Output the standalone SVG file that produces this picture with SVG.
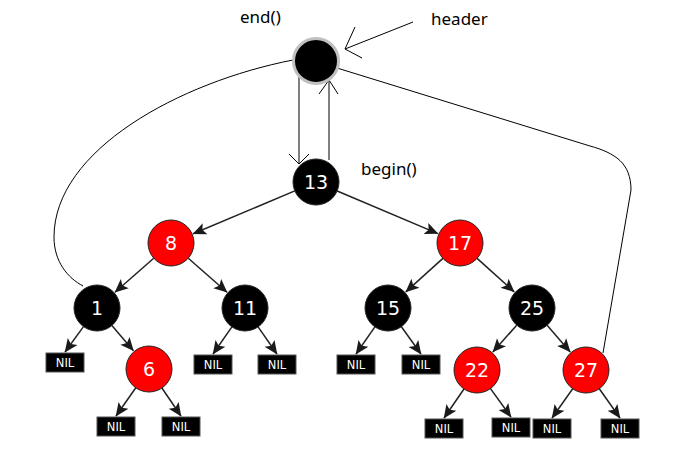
<svg xmlns="http://www.w3.org/2000/svg" width="680" height="454" viewBox="0 0 680 454">
<style>
.lbl{font-family:"Noto Sans","Liberation Sans",sans-serif;font-size:17px;fill:#000}
.nb{fill:#000;stroke:#222;stroke-width:1}
.nr{fill:#f00;stroke:#222;stroke-width:1}
.nt{font-family:"DejaVu Sans",sans-serif;font-size:19px;fill:#fff;text-anchor:middle}
.nil{fill:#000;stroke:#555;stroke-width:1}
.nilt{font-family:"DejaVu Sans",sans-serif;font-size:11.5px;fill:#fff;text-anchor:middle}
.e{stroke:#222;stroke-width:1.5;fill:none;marker-end:url(#ah)}
.thin{stroke:#000;stroke-width:1;fill:none}
</style>
<defs>
<marker id="ah" viewBox="-14 -7 15 14" refX="0" refY="0" markerWidth="15" markerHeight="14" markerUnits="userSpaceOnUse" orient="auto">
<path d="M0.5,0 L-13,-6 L-10,0 L-13,6 Z" fill="#1a1a1a"/>
</marker>
</defs>
<g id="connectors">
<path class="e" d="M294.8,190.9 L193.1,233.7"/>
<path class="e" d="M337.2,191 L437.9,233.6"/>
<path class="e" d="M153.7,258.2 L115,292.2"/>
<path class="e" d="M188.3,258.2 L227,292.2"/>
<path class="e" d="M442.9,258.4 L405.8,291.9"/>
<path class="e" d="M477.1,258.4 L514.2,291.9"/>
<path class="e" d="M111.9,325.5 L133.4,350.7"/>
<path class="e" d="M516.7,325.2 L492.9,352"/>
<path class="e" d="M547.1,325.3 L570.2,351.9"/>
<path class="e" d="M83.5,326.6 L65,352"/>
<path class="e" d="M135.8,387.8 L116,416"/>
<path class="e" d="M161.9,388 L181,416"/>
<path class="e" d="M231.9,326.9 L213,354"/>
<path class="e" d="M258.1,326.9 L277,354"/>
<path class="e" d="M374.9,326.9 L356,354"/>
<path class="e" d="M401.4,326.7 L421,354"/>
<path class="e" d="M464,389 L444,418"/>
<path class="e" d="M490.5,388.6 L511,417"/>
<path class="e" d="M572.7,388.8 L552,418"/>
<path class="e" d="M599.3,388.8 L620,418"/>
<path class="thin" d="M293,60 C180,82 54,150 54,237 C54,262 68,278 83,286"/>
<path class="thin" d="M337,68 L590,146 C615,153 631,163 631,190 L603,353"/>
<path class="thin" d="M413,22 L345,49 M355,27 L345,49 L362,58"/>
<path class="thin" d="M299,77 L299,164 M289,154 L299,164 L309,154"/>
<path class="thin" d="M329,160 L329,80 M319,94 L329,80 L338,94"/>
</g>
<g id="labels">
<text class="lbl" x="240" y="23">end()</text>
<text class="lbl" x="431" y="25">header</text>
<text class="lbl" x="361" y="175">begin()</text>
</g>
<g id="header"><circle cx="316" cy="61" r="22.5" fill="#000" stroke="#c0c0c0" stroke-width="3"/></g>
<g id="n13"><circle class="nb" cx="316" cy="182" r="23"/><text class="nt" x="316" y="189">13</text></g>
<g id="n8"><circle class="nr" cx="171" cy="243" r="23"/><text class="nt" x="171" y="250">8</text></g>
<g id="n17"><circle class="nr" cx="460" cy="243" r="23"/><text class="nt" x="460" y="250">17</text></g>
<g id="n1"><circle class="nb" cx="97" cy="308" r="23"/><text class="nt" x="97" y="315">1</text></g>
<g id="n11"><circle class="nb" cx="245" cy="308" r="23"/><text class="nt" x="245" y="315">11</text></g>
<g id="n15"><circle class="nb" cx="388" cy="308" r="23"/><text class="nt" x="388" y="315">15</text></g>
<g id="n25"><circle class="nb" cx="532" cy="308" r="23"/><text class="nt" x="532" y="315">25</text></g>
<g id="n6"><circle class="nr" cx="149" cy="369" r="23"/><text class="nt" x="149" y="376">6</text></g>
<g id="n22"><circle class="nr" cx="477" cy="370" r="23"/><text class="nt" x="477" y="377">22</text></g>
<g id="n27"><circle class="nr" cx="586" cy="370" r="23"/><text class="nt" x="586" y="377">27</text></g>
<g id="nil1"><rect class="nil" x="46" y="353" width="38" height="19"/><text class="nilt" x="65" y="367">NIL</text></g>
<g id="nil6a"><rect class="nil" x="97" y="417" width="38" height="19"/><text class="nilt" x="116" y="431">NIL</text></g>
<g id="nil6b"><rect class="nil" x="162" y="417" width="38" height="19"/><text class="nilt" x="181" y="431">NIL</text></g>
<g id="nil11a"><rect class="nil" x="194" y="355" width="38" height="19"/><text class="nilt" x="213" y="369">NIL</text></g>
<g id="nil11b"><rect class="nil" x="258" y="355" width="38" height="19"/><text class="nilt" x="277" y="369">NIL</text></g>
<g id="nil15a"><rect class="nil" x="337" y="355" width="38" height="19"/><text class="nilt" x="356" y="369">NIL</text></g>
<g id="nil15b"><rect class="nil" x="402" y="355" width="38" height="19"/><text class="nilt" x="421" y="369">NIL</text></g>
<g id="nil22a"><rect class="nil" x="425" y="419" width="38" height="19"/><text class="nilt" x="444" y="433">NIL</text></g>
<g id="nil22b"><rect class="nil" x="492" y="418" width="38" height="19"/><text class="nilt" x="511" y="432">NIL</text></g>
<g id="nil27a"><rect class="nil" x="533" y="419" width="38" height="19"/><text class="nilt" x="552" y="433">NIL</text></g>
<g id="nil27b"><rect class="nil" x="601" y="419" width="38" height="19"/><text class="nilt" x="620" y="433">NIL</text></g>
</svg>
